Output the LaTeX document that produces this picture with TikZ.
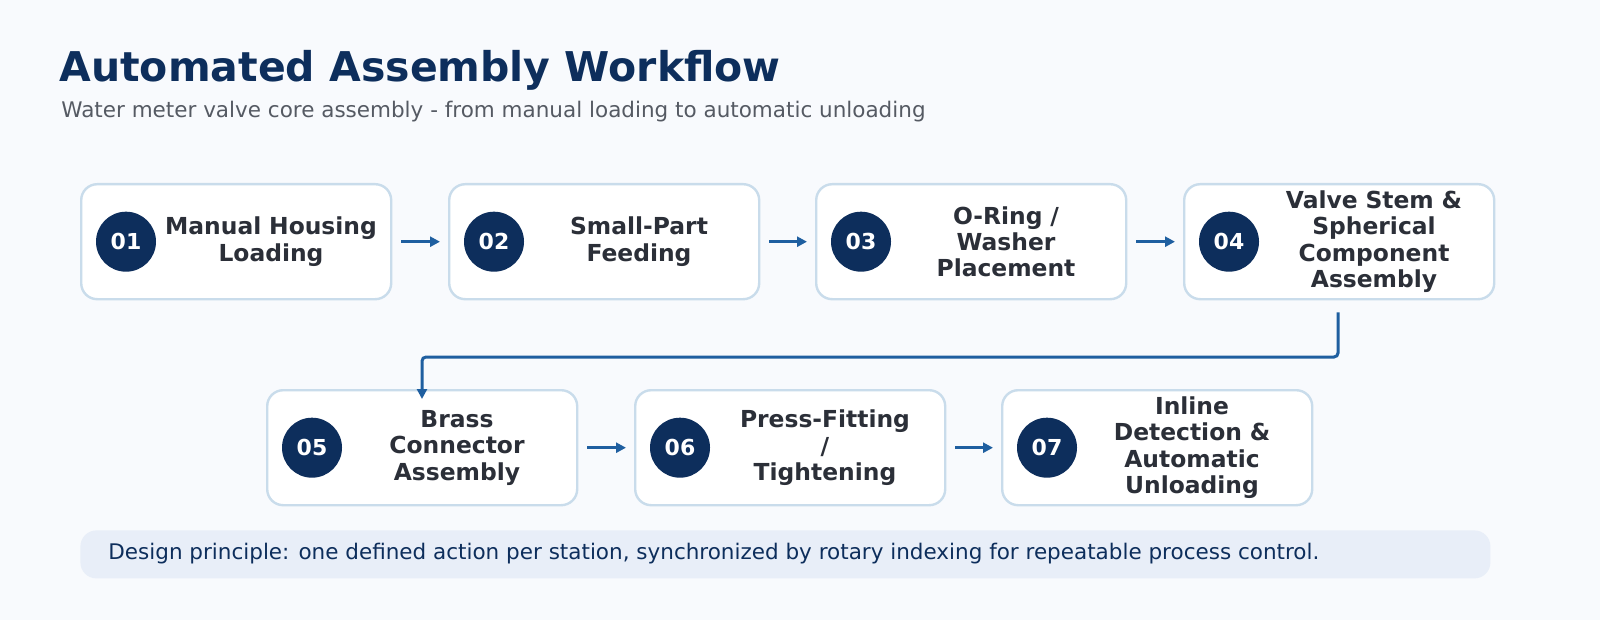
\documentclass[tikz,border=0pt]{standalone}
\usepackage{fontspec}
\setmainfont{DejaVu Sans}
\usetikzlibrary{arrows.meta}
\definecolor{bg}{HTML}{F8FAFD}
\definecolor{navy}{HTML}{0D2E5C}
\definecolor{bord}{HTML}{C9DCEB}
\definecolor{txt}{HTML}{2B2F38}
\definecolor{arr}{HTML}{1F5FA0}
\definecolor{foot}{HTML}{E8EEF8}
\definecolor{sub}{HTML}{555A63}
\begin{document}
\begin{tikzpicture}[x=0.5pt,y=-0.5pt,
  box/.style={draw=bord,line width=1.2pt,fill=white,rounded corners=8pt,minimum width=155pt,minimum height=57.5pt,anchor=north west,inner sep=0pt},
  badge/.style={circle,fill=navy,minimum size=30pt,inner sep=0pt,text=white,font=\bfseries\fontsize{11}{12}\selectfont},
  lab/.style={text=txt,font=\bfseries\fontsize{11.7}{13.2}\selectfont,align=center,text width=118pt},
  flow/.style={draw=arr,line width=1.5pt,-{Triangle[length=5pt,width=5pt]}}]
\fill[bg] (0,0) rectangle (1600,620);
\useasboundingbox (0,0) rectangle (1600,620);
\node[anchor=base west,text=navy,font=\bfseries\fontsize{20.5}{24}\selectfont,inner sep=0pt] (title) at (59,82) {Automated Assembly Workflow};
\node[anchor=base west,text=sub,font=\fontsize{10.75}{12}\selectfont,inner sep=0pt] (subt) at (61,118) {Water meter valve core assembly - from manual loading to automatic unloading};
\foreach \i/\x/\y/\t in {1/80/183/{Manual Housing\\Loading},2/448/183/{Small-Part\\Feeding},3/815/183/{O-Ring /\\Washer\\Placement},4/1183/183/{Valve Stem \&\\Spherical\\Component\\Assembly},5/266/389/{Brass\\Connector\\Assembly},6/634/389/{Press-Fitting\\/\\Tightening},7/1001/389/{Inline\\Detection \&\\Automatic\\Unloading}}{
  \node[box] (b\i) at (\x,\y) {};
  \node[badge] (c\i) at ([xshift=46*0.5pt]b\i.west) {0\i};
  \node[lab] (t\i) at ([xshift=191*0.5pt]b\i.west) {\t};
}
\foreach \a/\b in {1/2,2/3,3/4,5/6,6/7}{
  \draw[flow] ([xshift=9*0.5pt]b\a.east) -- ([xshift=-8*0.5pt]b\b.west);
}
\coordinate (k1) at (1338,357);
\coordinate (k2) at (422,357);
\draw[flow,rounded corners=2pt] ([yshift=-12*0.5pt]b4.south -| k1) -- (k1) -- (k2) -- ([yshift=-10*0.5pt]k2 |- b5.north);
\node[fill=foot,rounded corners=8pt,minimum width=705pt,minimum height=24pt,anchor=north west,inner sep=0pt] (f) at (80,530) {};
\node[anchor=west,text=navy,font=\fontsize{10.75}{12}\selectfont,inner sep=0pt] (ft) at (108,554) {Design principle: one defined action per station, synchronized by rotary indexing for repeatable process control.};
\end{tikzpicture}
\end{document}
